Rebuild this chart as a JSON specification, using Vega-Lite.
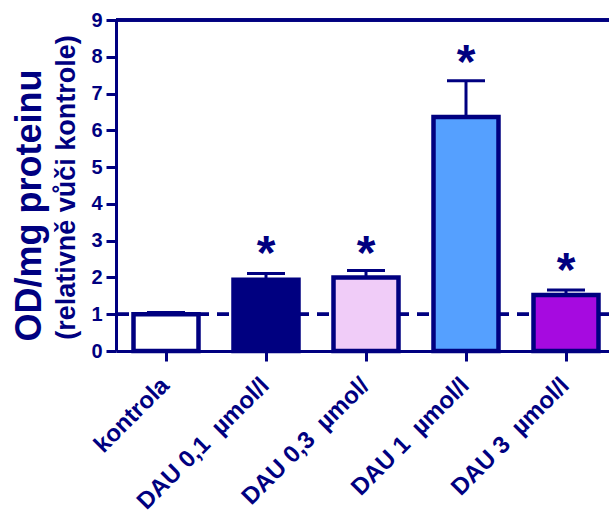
{
  "$schema": "https://vega.github.io/schema/vega-lite/v6.json",
  "width": 493,
  "height": 331,
  "autosize": "none",
  "padding": {"left": 116, "top": 20, "right": 0, "bottom": 159},
  "background": "white",
  "config": {
    "view": {"stroke": null},
    "font": "Liberation Sans",
    "axis": {"grid": false}
  },
  "data": {
    "values": [
      {"g": "kontrola", "v": 1.0, "cap": 1.05, "star": null},
      {"g": "DAU 0,1\u00a0 µmol/l", "v": 1.94, "cap": 2.11, "star": 2.23},
      {"g": "DAU 0,3\u00a0 µmol/", "v": 2.0, "cap": 2.19, "star": 2.23},
      {"g": "DAU 1\u00a0 µmol/l", "v": 6.36, "cap": 7.35, "star": 7.43},
      {"g": "DAU 3\u00a0 µmol/l", "v": 1.52, "cap": 1.66, "star": 1.76}
    ]
  },
  "encoding": {
    "x": {
      "field": "g",
      "type": "nominal",
      "sort": null,
      "scale": {"paddingInner": 0.35, "paddingOuter": 0.14, "align": 0.625},
      "axis": {
        "title": null,
        "labelAngle": -45,
        "labelAlign": "right",
        "labelBaseline": "top",
        "labelFontSize": 24,
        "labelFontWeight": "bold",
        "labelColor": "#000080",
        "labelPadding": 12,
        "labelOffset": -9,
        "domainColor": "#000080",
        "domainWidth": 3,
        "tickColor": "#000080",
        "tickWidth": 3,
        "tickSize": 10
      }
    }
  },
  "resolve": {"axis": {"y": "independent"}},
  "layer": [
    {
      "mark": {"type": "rule", "color": "#000080", "strokeWidth": 3, "strokeDash": [12, 8]},
      "encoding": {"y": {"datum": 1, "type": "quantitative", "scale": {"domain": [0, 9], "nice": false}, "axis": null}, "x": null}
    },
    {
      "mark": {"type": "rule", "color": "#000080", "strokeWidth": 3},
      "encoding": {"y": {"datum": 9, "type": "quantitative", "axis": null}, "x": null}
    },
    {
      "mark": {"type": "rule", "color": "#000080", "strokeWidth": 3},
      "encoding": {
        "y": {
          "field": "v",
          "type": "quantitative",
          "scale": {"domain": [0, 9], "nice": false},
          "axis": {
            "orient": "left",
            "values": [0, 1, 2, 3, 4, 5, 6, 7, 8, 9],
            "title": "(relativně vůči kontrole)",
            "titleFontSize": 27,
            "titleFontWeight": "bold",
            "titleColor": "#000080",
            "titleX": -42,
            "titleY": 167,
            "titleBaseline": "alphabetic",
            "labelFontSize": 20,
            "labelFontWeight": "bold",
            "labelColor": "#000080",
            "labelPadding": 4,
            "domainColor": "#000080",
            "domainWidth": 3,
            "tickColor": "#000080",
            "tickWidth": 3,
            "tickSize": 10
          }
        },
        "y2": {"field": "cap"}
      }
    },
    {
      "mark": {"type": "bar", "stroke": "#000080", "strokeWidth": 4.5},
      "encoding": {
        "y": {"field": "v", "type": "quantitative", "axis": null},
        "fill": {
          "field": "g",
          "type": "nominal",
          "sort": null,
          "scale": {"range": ["#FFFFFF", "#000080", "#F0CCF8", "#55A0FF", "#A60AE0"]},
          "legend": null
        }
      }
    },
    {
      "mark": {"type": "tick", "color": "#000080", "size": 38, "thickness": 3, "opacity": 1},
      "encoding": {
        "y": {
          "field": "cap",
          "type": "quantitative",
          "axis": {
            "orient": "left",
            "labels": false,
            "ticks": false,
            "domain": false,
            "title": "OD/mg proteinu",
            "titleFontSize": 36,
            "titleFontWeight": "bold",
            "titleColor": "#000080",
            "titleX": -76,
            "titleY": 185,
            "titleBaseline": "alphabetic"
          }
        }
      }
    },
    {
      "mark": {"type": "text", "text": "*", "color": "#000080", "fontSize": 48, "fontWeight": "bold", "baseline": "alphabetic"},
      "encoding": {
        "y": {"field": "star", "type": "quantitative", "axis": null}
      }
    }
  ]
}
